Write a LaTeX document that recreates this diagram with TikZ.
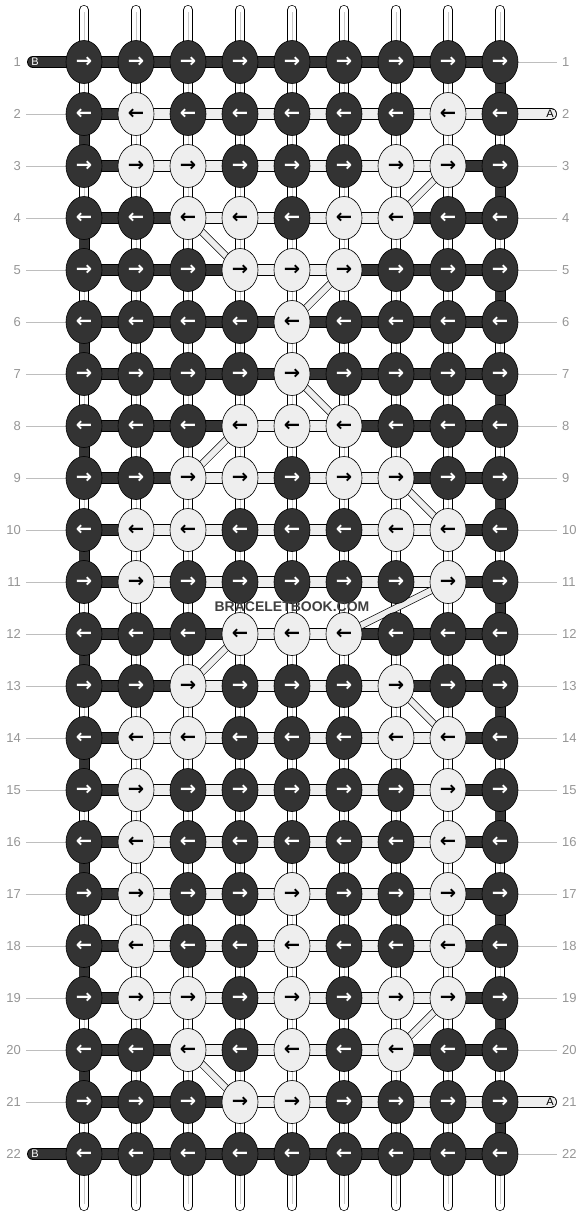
\documentclass[tikz,border=0pt]{standalone}
\usepackage{fontspec}
\usetikzlibrary{shapes.geometric}
\newfontfamily\arrowfont{DejaVu Sans}
\newfontfamily\labelfont{Liberation Sans}
\definecolor{KnotDark}{RGB}{51,51,51}
\definecolor{KnotLight}{RGB}{238,238,238}
\definecolor{RowGray}{RGB}{150,150,150}
\definecolor{GuideGray}{RGB}{190,190,190}
\definecolor{WarpGray}{RGB}{200,200,200}
\definecolor{MarkGray}{RGB}{64,64,64}
\pgfdeclarelayer{bg}
\pgfsetlayers{bg,main}

\begin{document}
\begin{tikzpicture}[x=1pt,y=-1pt,
  knot/.style={ellipse,draw=black,line width=0.6pt,minimum width=36pt,minimum height=43pt,inner sep=0pt,font=\arrowfont\bfseries\fontsize{19.5}{19.5}\selectfont},
  dk/.style={fill=KnotDark,text=white},
  lt/.style={fill=KnotLight,text=black},
  bar/.style={draw=black,line width=0.7pt,double=#1,double distance=10.5pt},
  warp/.style={draw=black,line width=0.7pt,double=white,double distance=8.6pt,line cap=round},
  diag/.style={draw=black,line width=0.6pt,double=KnotLight,double distance=6pt},
  tail/.style={bar=#1,line cap=round},
  guide/.style={draw=GuideGray,line width=0.8pt},
  rowlbl/.style={font=\labelfont\fontsize{13}{13}\selectfont,text=RowGray,inner sep=0pt},
  tailtxt/.style={font=\labelfont\fontsize{11}{11}\selectfont,inner sep=0pt}]
\useasboundingbox (0,0) rectangle (584,1216);
\begin{pgfonlayer}{bg}
\fill[white] (0,0) rectangle (584,1216);
% warp strings
\foreach \c in {1,...,9} {
  \coordinate (wt-\c) at (32+52*\c,10);
  \coordinate (wb-\c) at (32+52*\c,1206);
  \draw[warp] (wt-\c) -- (wb-\c);
  \draw[WarpGray,line width=1pt,shorten <=2pt,shorten >=2pt] (wt-\c) -- (wb-\c);
}
\end{pgfonlayer}
% knots, row by row: arrow / light knots / light span
\foreach \r/\a/\lights/\la/\lb in {1/→/{0}/0/0, 2/←/{2,8}/2/10, 3/→/{2,3,7,8}/2/8,
  4/←/{3,4,6,7}/3/7, 5/→/{4,5,6}/4/6, 6/←/{5}/5/5, 7/→/{5}/5/5, 8/←/{4,5,6}/4/6,
  9/→/{3,4,6,7}/3/7, 10/←/{2,3,7,8}/2/8, 11/→/{2,8}/2/8, 12/←/{4,5,6}/4/6,
  13/→/{3,7}/3/7, 14/←/{2,3,7,8}/2/8, 15/→/{2,8}/2/8, 16/←/{2,8}/2/8,
  17/→/{2,5,8}/2/8, 18/←/{2,5,8}/2/8, 19/→/{2,3,5,7,8}/2/8, 20/←/{3,5,7}/3/7,
  21/→/{4,5}/4/10, 22/←/{0}/0/0} {
  \foreach \c in {1,...,9} {
    \gdef\kcol{dk}
    \foreach \lc in \lights {\ifnum\lc=\c\relax\gdef\kcol{lt}\fi}
    \node[knot,\kcol] (k-\r-\c) at (32+52*\c,10+52*\r) {\a};
  }
  \begin{pgfonlayer}{bg}
  \foreach \c in {1,...,8} {
    \pgfmathtruncatemacro\cn{\c+1}
    \def\hcol{KnotDark}
    \ifnum\c<\la\relax\else\ifnum\cn>\lb\relax\else\def\hcol{KnotLight}\fi\fi
    \draw[bar=\hcol] (k-\r-\c.center) -- (k-\r-\cn.center);
  }
  \end{pgfonlayer}
}
\begin{pgfonlayer}{bg}
% dark string turning at the edges
\foreach \r in {2,4,...,20} {
  \pgfmathtruncatemacro\rn{\r+1}
  \draw[bar=KnotDark,double distance=9.6pt] (k-\r-1.center) -- (k-\rn-1.center);
}
\foreach \r in {1,3,...,21} {
  \pgfmathtruncatemacro\rn{\r+1}
  \draw[bar=KnotDark,double distance=9.6pt] (k-\r-9.center) -- (k-\rn-9.center);
}
% light string moving to the next row
\foreach \ra/\ca/\rb/\cb in {3/8/4/7, 4/3/5/4, 5/6/6/5, 7/5/8/6, 8/4/9/3, 9/7/10/8,
  11/8/12/6, 12/4/13/3, 13/7/14/8, 19/8/20/7, 20/3/21/4}
  \draw[diag] (k-\ra-\ca.center) -- (k-\rb-\cb.center);
% loose ends
\coordinate (tb-1) at (33,62);
\coordinate (tb-22) at (33,1154);
\coordinate (ta-2) at (551,114);
\coordinate (ta-21) at (551,1102);
\draw[tail=KnotDark] (k-1-1.center) -- (tb-1);
\draw[tail=KnotDark] (k-22-1.center) -- (tb-22);
\draw[tail=KnotLight] (k-2-9.center) -- (ta-2);
\draw[tail=KnotLight] (k-21-9.center) -- (ta-21);
% guide lines
\foreach \r in {2,...,21} {
  \coordinate (gl-\r) at (26,10+52*\r);
  \draw[guide] (gl-\r) -- (k-\r-1);
}
\foreach \r in {1,3,4,...,20,22} {
  \coordinate (gr-\r) at (557,10+52*\r);
  \draw[guide] (k-\r-9) -- (gr-\r);
}
\end{pgfonlayer}
% row numbers
\foreach \r in {1,...,22} {
  \node[rowlbl,anchor=east] (ll-\r) at (21,10+52*\r) {\r};
  \node[rowlbl,anchor=west] (rl-\r) at (562,10+52*\r) {\r};
}
\node[tailtxt,text=white] (bt-1) at (35,62) {B};
\node[tailtxt,text=white] (bt-22) at (35,1154) {B};
\node[tailtxt,text=black] (at-2) at (550,114) {A};
\node[tailtxt,text=black] (at-21) at (550,1102) {A};
\node[font=\labelfont\bfseries\fontsize{14}{14}\selectfont,text=MarkGray] (mark) at (292,607) {BRACELETBOOK.COM};
\end{tikzpicture}
\end{document}
